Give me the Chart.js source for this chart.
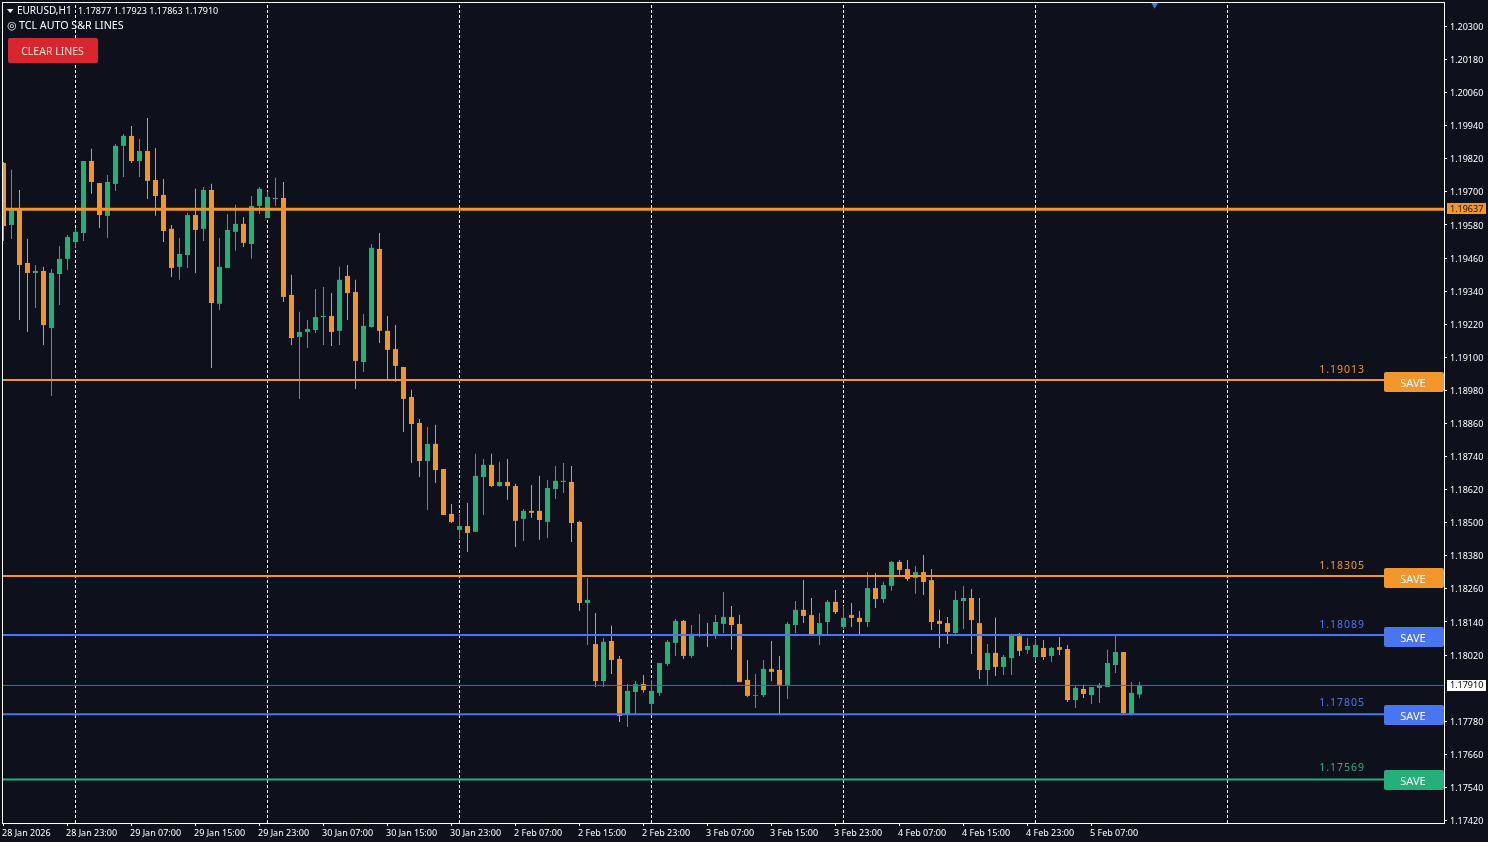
<!DOCTYPE html>
<html>
<head>
<meta charset="utf-8">
<title>EURUSD,H1</title>
<script src="https://cdn.jsdelivr.net/npm/chart.js@4"></script>
<style>
  html, body { margin: 0; padding: 0; background: #0e111c; overflow: hidden; }
  canvas { display: block; }
</style>
</head>
<body>
<canvas id="myChart" width="1488" height="842"></canvas>
<script>
// candles, one value per hourly bar
const opens = [
  1.19805,1.19580,1.19634,1.19442,1.19406,1.19413,1.19206,1.19402,1.19457,1.19518,1.19551,1.19812,
  1.19732,1.19613,1.19729,1.19867,1.19903,1.19812,1.19848,1.19743,1.19689,1.19566,1.19428,1.19471,
  1.19616,1.19566,1.19707,1.19294,1.19424,1.19555,1.19584,1.19511,1.19649,1.19605,1.19674,1.19678,
  1.19326,1.19174,1.19192,1.19199,1.19246,1.19250,1.19196,1.19395,1.19337,1.19083,1.19210,1.19493,
  1.19196,1.19130,1.19065,1.18956,1.18862,1.18724,1.18786,1.18695,1.18532,1.18474,1.18488,1.18467,
  1.18666,1.18710,1.18633,1.18648,1.18633,1.18514,1.18543,1.18543,1.18503,1.18622,1.18648,1.18648,
  1.18503,1.18209,1.18060,1.17926,1.18071,1.18006,1.17803,1.17886,1.17915,1.17843,1.17883,1.17988,
  1.18064,1.18144,1.18017,1.18093,1.18097,1.18089,1.18133,1.18158,1.18133,1.17930,1.17872,1.17875,
  1.17970,1.17966,1.17912,1.18129,1.18184,1.18165,1.18089,1.18140,1.18213,1.18122,1.18165,1.18155,
  1.18140,1.18263,1.18223,1.18271,1.18358,1.18332,1.18300,1.18321,1.18292,1.18144,1.18136,1.18100,
  1.18216,1.18227,1.18136,1.17966,1.18028,1.17977,1.18009,1.18089,1.18039,1.18013,1.18046,1.18017,
  1.18049,1.18042,1.17857,1.17897,1.17875,1.17901,1.17904,1.17984,1.18031,1.17806,1.17877
];
const highs = [
  1.19808,1.19780,1.19707,1.19529,1.19435,1.19428,1.19420,1.19504,1.19544,1.19569,1.19812,1.19856,
  1.19732,1.19761,1.19874,1.19910,1.19939,1.19892,1.19968,1.19859,1.19747,1.19580,1.19533,1.19624,
  1.19711,1.19718,1.19729,1.19533,1.19620,1.19653,1.19609,1.19685,1.19718,1.19700,1.19751,1.19736,
  1.19399,1.19265,1.19235,1.19348,1.19355,1.19333,1.19428,1.19435,1.19381,1.19257,1.19511,1.19551,
  1.19250,1.19217,1.19065,1.18982,1.18876,1.18847,1.18855,1.18695,1.18568,1.18532,1.18572,1.18750,
  1.18731,1.18750,1.18721,1.18731,1.18641,1.18550,1.18637,1.18670,1.18655,1.18706,1.18717,1.18706,
  1.18507,1.18300,1.18173,1.18082,1.18126,1.18017,1.17915,1.17926,1.17948,1.17930,1.17991,1.18075,
  1.18151,1.18147,1.18129,1.18169,1.18136,1.18165,1.18249,1.18198,1.18165,1.18002,1.17951,1.18002,
  1.18071,1.18017,1.18140,1.18216,1.18292,1.18227,1.18173,1.18220,1.18256,1.18198,1.18209,1.18180,
  1.18321,1.18318,1.18285,1.18361,1.18365,1.18365,1.18343,1.18383,1.18332,1.18184,1.18158,1.18253,
  1.18271,1.18260,1.18227,1.18060,1.18155,1.18020,1.18097,1.18100,1.18082,1.18078,1.18075,1.18049,
  1.18086,1.18057,1.17908,1.17912,1.17904,1.17919,1.18039,1.18093,1.18031,1.17922,1.17923
];
const lows = [
  1.19522,1.19529,1.19235,1.19192,1.19279,1.19145,1.18960,1.19290,1.19417,1.19497,1.19522,1.19693,
  1.19569,1.19533,1.19703,1.19754,1.19805,1.19754,1.19674,1.19613,1.19518,1.19391,1.19381,1.19424,
  1.19406,1.19522,1.19061,1.19272,1.19424,1.19486,1.19500,1.19457,1.19620,1.19605,1.19649,1.19301,
  1.19145,1.18949,1.19134,1.19188,1.19145,1.19141,1.19145,1.19235,1.18985,1.19047,1.19207,1.19152,
  1.19018,1.19011,1.18829,1.18717,1.18666,1.18546,1.18644,1.18528,1.18499,1.18441,1.18394,1.18467,
  1.18528,1.18630,1.18630,1.18583,1.18412,1.18434,1.18517,1.18438,1.18445,1.18586,1.18608,1.18430,
  1.18180,1.18057,1.17904,1.17904,1.17951,1.17777,1.17759,1.17803,1.17883,1.17806,1.17872,1.17980,
  1.18017,1.18006,1.18009,1.18086,1.18049,1.18078,1.18100,1.18039,1.17922,1.17868,1.17828,1.17868,
  1.17926,1.17803,1.17861,1.18100,1.18136,1.18093,1.18057,1.18093,1.18169,1.18115,1.18122,1.18089,
  1.18122,1.18191,1.18209,1.18253,1.18311,1.18289,1.18242,1.18238,1.18111,1.18046,1.18060,1.18097,
  1.18115,1.18024,1.17933,1.17908,1.17944,1.17948,1.17948,1.18017,1.18024,1.17999,1.18002,1.17995,
  1.18020,1.17850,1.17828,1.17864,1.17843,1.17846,1.17904,1.17955,1.17803,1.17806,1.17863
];
const closes = [
  1.19576,1.19638,1.19435,1.19406,1.19413,1.19217,1.19406,1.19457,1.19536,1.19555,1.19812,1.19736,
  1.19616,1.19736,1.19867,1.19903,1.19812,1.19848,1.19740,1.19685,1.19558,1.19424,1.19475,1.19616,
  1.19562,1.19707,1.19297,1.19428,1.19562,1.19584,1.19515,1.19649,1.19711,1.19682,1.19678,1.19319,
  1.19170,1.19192,1.19203,1.19246,1.19250,1.19192,1.19381,1.19333,1.19087,1.19214,1.19497,1.19196,
  1.19127,1.19069,1.18949,1.18858,1.18724,1.18786,1.18691,1.18528,1.18503,1.18488,1.18463,1.18670,
  1.18710,1.18633,1.18648,1.18633,1.18507,1.18543,1.18536,1.18510,1.18626,1.18652,1.18652,1.18499,
  1.18209,1.18220,1.17926,1.18068,1.18002,1.17799,1.17890,1.17915,1.17893,1.17890,1.17991,1.18068,
  1.18144,1.18017,1.18097,1.18097,1.18089,1.18140,1.18158,1.18129,1.17922,1.17872,1.17875,1.17970,
  1.17959,1.17912,1.18133,1.18184,1.18162,1.18093,1.18136,1.18213,1.18176,1.18155,1.18155,1.18140,
  1.18263,1.18223,1.18274,1.18358,1.18329,1.18296,1.18321,1.18285,1.18140,1.18133,1.18104,1.18220,
  1.18227,1.18147,1.17966,1.18028,1.17977,1.18013,1.18093,1.18035,1.18053,1.18057,1.18013,1.18046,
  1.18039,1.17857,1.17901,1.17879,1.17904,1.17912,1.17991,1.18031,1.17810,1.17883,1.17910
];

// axis labels
const yTicks = [
  1.20300,1.20180,1.20060,1.19940,1.19820,1.19700,1.19580,1.19460,1.19340,1.19220,1.19100,1.18980,
  1.18860,1.18740,1.18620,1.18500,1.18380,1.18260,1.18140,1.18020,1.17780,1.17660,1.17540,1.17420
];
const xTickBars = [0,8,16,24,32,40,48,56,64,72,80,88,96,104,112,120,128,136];
const xTickLabels = [
  '28 Jan 2026','28 Jan 23:00','29 Jan 07:00','29 Jan 15:00','29 Jan 23:00','30 Jan 07:00',
  '30 Jan 15:00','30 Jan 23:00','2 Feb 07:00','2 Feb 15:00','2 Feb 23:00','3 Feb 07:00',
  '3 Feb 15:00','3 Feb 23:00','4 Feb 07:00','4 Feb 15:00','4 Feb 23:00','5 Feb 07:00'
];

// day separators (bar index of each midnight)
const dayBars = [9,33,57,81,105,129,153];

// S&R lines: where they sit, what they print
const levelPrices = [1.19637,1.19018,1.18307,1.18093,1.17805,1.17569];
const levelTexts = ['','1.19013','1.18305','1.18089','1.17805','1.17569'];
const levelKinds = ['orange','orange','orange','blue','blue','green'];
const lastPrice = 1.17910;
const topLevelPrice = 1.19637;
const markerBar = [143.9];
const markerPrice = [1.20382];

const colors = { orange: '#f0962a', blue: '#4976f0', green: '#24b078', red: '#d7262d',
  bg: '#0e111c', white: '#ffffff', lastLine: '#4067cf' };
const yMin = 1.17411, yMax = 1.20385;
const barMin = -0.0625, barMax = 180.0625;
const font = '"Noto Sans", sans-serif';

Chart.defaults.font.family = font;
Chart.defaults.color = colors.white;

const bars = opens.map((o, i) => i);
const candleColors = opens.map((o, i) => closes[i] >= o ? colors.green : colors.orange);

function hLine(price, color, width, order) {
  return { type: 'line', data: [{ x: barMin, y: price }, { x: barMax, y: price }],
    borderColor: color, borderWidth: width, pointRadius: 0, order: order };
}

const datasets = [];
for (const d of dayBars) {
  datasets.push({ type: 'line', data: [{ x: d, y: yMin }, { x: d, y: yMax }], borderColor: colors.white,
    borderWidth: 1, borderDash: [3, 2], pointRadius: 0, order: 9 });
}
datasets.push({ type: 'bar', grouped: false, barThickness: 1, inflateAmount: 0, order: 6,
  data: bars.map(i => ({ x: i, y: [lows[i], highs[i]] })), backgroundColor: candleColors });
datasets.push({ type: 'bar', grouped: false, barThickness: 5, inflateAmount: 0, order: 5,
  data: bars.map(i => ({ x: i, y: [Math.min(opens[i], closes[i]), Math.max(opens[i], closes[i])] })),
  backgroundColor: candleColors });
datasets.push(hLine(lastPrice, colors.lastLine, 1, 3));
levelPrices.forEach((p, i) => {
  datasets.push(hLine(p, colors[levelKinds[i]], p === topLevelPrice ? 3 : 2, 2));
});
datasets.push({ type: 'line', showLine: false, data: markerBar.map((b, i) => ({ x: b, y: markerPrice[i] })),
  pointStyle: 'triangle', rotation: 180, pointRadius: 5, pointBackgroundColor: colors.blue,
  pointBorderWidth: 0, order: 1 });

function roundBox(ctx, x, y, w, h, r, color) {
  ctx.fillStyle = color;
  ctx.beginPath();
  ctx.roundRect(x, y, w, h, r);
  ctx.fill();
}

// frame, price tags, SAVE buttons and the text written over the chart
const overlay = {
  id: 'overlay',
  afterDraw(chart) {
    const ctx = chart.ctx;
    const a = chart.chartArea;
    const y = chart.scales.y;
    ctx.save();
    ctx.strokeStyle = colors.white;
    ctx.lineWidth = 1;
    ctx.strokeRect(a.left - 0.5, a.top - 0.5, a.right - a.left + 1, a.bottom - a.top + 1);

    // right side tags
    ctx.textBaseline = 'middle';
    ctx.textAlign = 'left';
    ctx.font = '9px ' + font;
    let py = y.getPixelForValue(topLevelPrice);
    ctx.fillStyle = colors.orange;
    ctx.fillRect(a.right + 3, Math.round(py) - 6, 39, 11);
    ctx.fillStyle = '#1a1208';
    ctx.fillText(topLevelPrice.toFixed(5), a.right + 6, py);
    py = y.getPixelForValue(lastPrice);
    ctx.fillStyle = colors.white;
    ctx.fillRect(a.right + 3, Math.round(py) - 5, 39, 11);
    ctx.fillStyle = '#000000';
    ctx.fillText(lastPrice.toFixed(5), a.right + 6, py);

    // SAVE buttons with their level text
    levelTexts.forEach((t, i) => {
      if (!t) return;
      const c = colors[levelKinds[i]];
      const ly = Math.round(y.getPixelForValue(Number(t)));
      roundBox(ctx, a.right - 60, ly - 9, 60, 20, 2, c);
      ctx.fillStyle = colors.white;
      ctx.textAlign = 'center';
      ctx.font = '11px ' + font;
      ctx.letterSpacing = '0px';
      ctx.fillText('SAVE', a.right - 31, ly + 2.5);
      ctx.fillStyle = c;
      ctx.textAlign = 'right';
      ctx.font = '10.5px ' + font;
      ctx.letterSpacing = '1px';
      ctx.fillText(t, a.right - 79, ly - 11);
      ctx.letterSpacing = '0px';
    });

    // top left block
    ctx.textAlign = 'left';
    ctx.fillStyle = colors.white;
    ctx.beginPath();
    ctx.moveTo(7, 9); ctx.lineTo(13.5, 9); ctx.lineTo(10.25, 13); ctx.closePath();
    ctx.fill();
    ctx.font = '10px ' + font;
    ctx.fillText('EURUSD,H1', 17, 11);
    ctx.font = '9px ' + font;
    ctx.fillText([opens, highs, lows, closes].map(s => s[s.length - 1].toFixed(5)).join(' '), 78, 11);
    ctx.font = '10.7px ' + font;
    ctx.fillText('\u25CE', 7, 25.5);
    ctx.fillText('TCL AUTO S&R LINES', 19, 25.5);
    roundBox(ctx, 8, 38, 90, 25, 2, colors.red);
    ctx.fillStyle = '#f6e3e3';
    ctx.textAlign = 'center';
    ctx.font = '10.5px ' + font;
    ctx.fillText('CLEAR LINES', 52.5, 52);
    ctx.restore();
  }
};

new Chart(document.getElementById('myChart'), {
  type: 'bar',
  data: { datasets: datasets },
  plugins: [overlay, {
    id: 'bg',
    beforeDraw(chart) {
      chart.ctx.fillStyle = colors.bg;
      chart.ctx.fillRect(0, 0, chart.width, chart.height);
    }
  }],
  options: {
    responsive: false,
    animation: false,
    events: [],
    layout: { autoPadding: false, padding: { top: 3, left: 3, right: 0, bottom: 0 } },
    plugins: { legend: { display: false }, tooltip: { enabled: false } },
    scales: {
      x: {
        type: 'linear',
        offset: false,
        min: barMin,
        max: barMax,
        afterBuildTicks: s => { s.ticks = xTickBars.map(v => ({ value: v })); },
        afterFit: s => { s.height = 19; s.paddingLeft = 0; s.paddingRight = 0; },
        border: { display: false },
        grid: { offset: false, drawOnChartArea: false, color: colors.white, tickLength: 3 },
        ticks: {
          autoSkip: false, maxRotation: 0, minRotation: 0, align: 'start', labelOffset: -1.5, padding: 2,
          color: colors.white, font: { size: 9 },
          callback: (v, i) => xTickLabels[i]
        }
      },
      y: {
        position: 'right',
        min: yMin,
        max: yMax,
        afterBuildTicks: s => { s.ticks = yTicks.map(v => ({ value: v })); },
        afterFit: s => { s.width = 44; s.paddingTop = 0; s.paddingBottom = 0; },
        border: { display: false },
        grid: { drawOnChartArea: false, color: colors.white, tickLength: 3 },
        ticks: {
          autoSkip: false, padding: 3, labelOffset: 1, color: colors.white, font: { size: 9 },
          callback: v => v.toFixed(5)
        }
      }
    }
  }
});
</script>
</body>
</html>
